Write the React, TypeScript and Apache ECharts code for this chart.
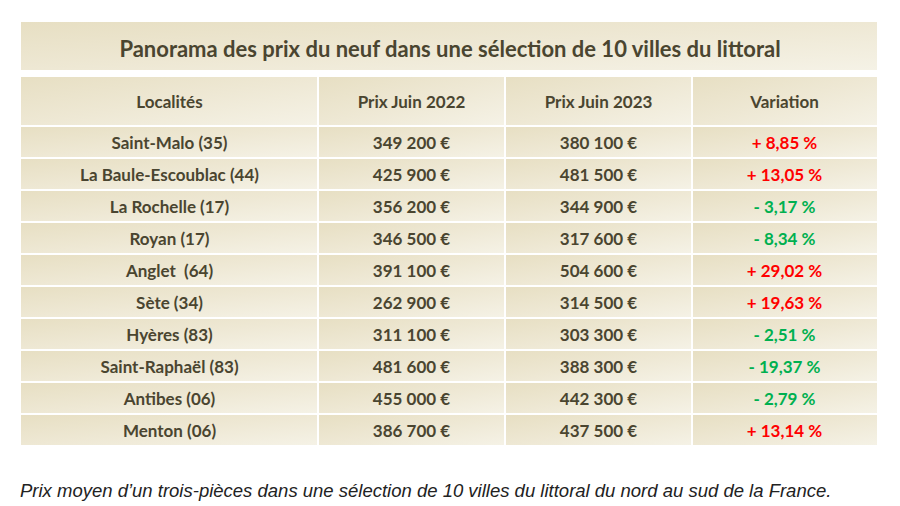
import React, { useEffect, useRef } from "react";
import * as echarts from "echarts";

const title = "Panorama des prix du neuf dans une sélection de 10 villes du littoral";
const headers = ["Localités", "Prix Juin 2022", "Prix Juin 2023", "Variation"];
const cities = [
  "Saint-Malo (35)",
  "La Baule-Escoublac (44)",
  "La Rochelle (17)",
  "Royan (17)",
  "Anglet  (64)",
  "Sète (34)",
  "Hyères (83)",
  "Saint-Raphaël (83)",
  "Antibes (06)",
  "Menton (06)",
];
const price2022 = [349200, 425900, 356200, 346500, 391100, 262900, 311100, 481600, 455000, 386700];
const price2023 = [380100, 481500, 344900, 317600, 504600, 314500, 303300, 388300, 442300, 437500];
const variation = [8.85, 13.05, -3.17, -8.34, 29.02, 19.63, -2.51, -19.37, -2.79, 13.14];
const caption =
  "Prix moyen d\u2019un trois-pièces dans une sélection de 10 villes du littoral du nord au sud de la France.";

// layout constants (pixels)
const COL_EDGES = [0, 297, 484, 671, 856];
const HEADER_UNITS = 50 / 32;
const TEXT = "#4a4530";
const RED = "#ff0000";
const GREEN = "#00b050";
const FONT = "Lato";

const fmtPrice = (n: number) => String(n).replace(/\B(?=(\d{3})+(?!\d))/g, " ") + " €";
const fmtVar = (v: number) =>
  (v >= 0 ? "+ " : "- ") + Math.abs(v).toFixed(2).replace(".", ",") + " %";

type Cell = { col: number; row: number; text: string; color: string };

const cells: Cell[] = [];
headers.forEach((h, c) => cells.push({ col: c, row: -1, text: h, color: TEXT }));
cities.forEach((city, r) => {
  cells.push({ col: 0, row: r, text: city, color: TEXT });
  cells.push({ col: 1, row: r, text: fmtPrice(price2022[r]), color: TEXT });
  cells.push({ col: 2, row: r, text: fmtPrice(price2023[r]), color: TEXT });
  cells.push({
    col: 3,
    row: r,
    text: fmtVar(variation[r]),
    color: variation[r] >= 0 ? RED : GREEN,
  });
});

const cellGradient = () =>
  new echarts.graphic.LinearGradient(0, 0, 1, 1, [
    { offset: 0, color: "#e7dfc3" },
    { offset: 0.5, color: "#eee8d4" },
    { offset: 1, color: "#f5f2e6" },
  ]);

export default function App() {
  const ref = useRef<HTMLDivElement>(null);
  useEffect(() => {
    if (!ref.current) return;
    const chart = echarts.init(ref.current, undefined, { renderer: "svg" });
    chart.setOption({
      animation: false,
      backgroundColor: "#ffffff",
      grid: { left: 21, right: 23, top: 76, bottom: 60 },
      xAxis: { type: "value", min: 0, max: 856, show: false },
      yAxis: { type: "value", min: -HEADER_UNITS, max: 10, inverse: true, show: false },
      graphic: [
        {
          type: "rect",
          shape: { x: 21, y: 22, width: 856, height: 48 },
          style: { fill: cellGradient() },
        },
        {
          type: "text",
          x: 450,
          y: 48,
          style: {
            text: title,
            align: "center",
            verticalAlign: "middle",
            fontFamily: FONT,
            fontWeight: "bold",
            fontSize: 22,
            fill: TEXT,
          },
        },
        {
          type: "text",
          x: 20,
          y: 490,
          style: {
            text: caption,
            align: "left",
            verticalAlign: "middle",
            fontFamily: "Liberation Sans",
            fontStyle: "italic",
            fontSize: 18.5,
            fill: "#222222",
          },
        },
      ],
      series: [
        {
          type: "custom",
          clip: false,
          data: cells.map((c) => [c.col, c.row]),
          renderItem: (params: any, api: any) => {
            const cell = cells[params.dataIndex];
            const c = api.value(0);
            const r = api.value(1);
            const y0 = r < 0 ? -HEADER_UNITS : r;
            const y1 = r < 0 ? 0 : r + 1;
            const p0 = api.coord([COL_EDGES[c], y0]);
            const p1 = api.coord([COL_EDGES[c + 1], y1]);
            const x = p0[0] + (c === 0 ? 0 : 1);
            const w = p1[0] - p0[0] - (c === 0 ? 1 : 2) + (c === 3 ? 1 : 0);
            const y = p0[1] + 1;
            const h = p1[1] - p0[1] - 2;
            return {
              type: "group",
              children: [
                {
                  type: "rect",
                  shape: { x, y, width: w, height: h },
                  style: { fill: cellGradient() },
                },
                {
                  type: "text",
                  x: (p0[0] + p1[0]) / 2,
                  y: (p0[1] + p1[1]) / 2,
                  style: {
                    text: cell.text,
                    align: "center",
                    verticalAlign: "middle",
                    fontFamily: FONT,
                    fontWeight: "bold",
                    fontSize: 17,
                    fill: cell.color,
                  },
                },
              ],
            };
          },
        },
      ],
    });
    return () => chart.dispose();
  }, []);
  return (
    <div
      ref={ref}
      style={{ position: "fixed", left: 0, top: 0, width: 900, height: 506 }}
    />
  );
}
